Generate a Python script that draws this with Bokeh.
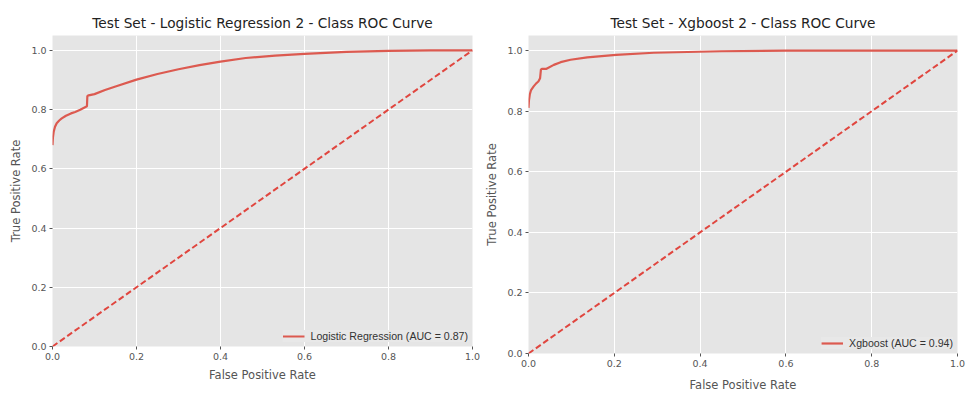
from bokeh.plotting import figure
from bokeh.models import Range1d, FixedTicker, Legend, LegendItem
from bokeh.embed import file_html
from bokeh.resources import INLINE

# ---------------- data ----------------
lr_fpr = [0.0, 0.001, 0.003, 0.006, 0.010, 0.016, 0.022, 0.032, 0.044, 0.054, 0.066, 0.082, 0.083, 0.086,
          0.10, 0.125, 0.15, 0.20, 0.25, 0.30, 0.35, 0.40, 0.46, 0.53, 0.60, 0.70, 0.80, 0.90, 1.0]
lr_tpr = [0.68, 0.705, 0.726, 0.742, 0.754, 0.763, 0.770, 0.779, 0.787, 0.792, 0.799, 0.811, 0.846, 0.848,
          0.852, 0.866, 0.878, 0.901, 0.920, 0.936, 0.950, 0.962, 0.974, 0.982, 0.988, 0.995, 0.998, 0.9995, 1.0]

xgb_fpr = [0.0, 0.001, 0.003, 0.006, 0.012, 0.018, 0.023, 0.027, 0.029, 0.032, 0.042, 0.059, 0.075, 0.098,
           0.137, 0.204, 0.292, 0.45, 0.60, 0.80, 1.0]
xgb_tpr = [0.811, 0.835, 0.855, 0.870, 0.882, 0.892, 0.898, 0.909, 0.938, 0.940, 0.940, 0.953, 0.962, 0.970,
           0.978, 0.986, 0.993, 0.998, 1.0, 1.0, 1.0]

chance = [0.0, 1.0]

tick_values = [0.0, 0.2, 0.4, 0.6, 0.8, 1.0]
tick_labels = ["0.0", "0.2", "0.4", "0.6", "0.8", "1.0"]

titles = ["Test Set - Logistic Regression 2 - Class ROC Curve", "Test Set - Xgboost 2 - Class ROC Curve"]
legend_labels = ["Logistic Regression (AUC = 0.87)", "Xgboost (AUC = 0.94)"]
x_label = "False Positive Rate"
y_label = "True Positive Rate"

CURVE = "#dc5a50"
DIAG = "#e0463f"
PANEL = "#e5e5e5"
GRAY = "#555555"
FONT = "DejaVu Sans"


def make(fpr, tpr, title, label, width, mb_left, mb_right, mb_bottom, lbl_standoff):
    p = figure(width=width, height=394, output_backend="svg", toolbar_location=None,
               x_range=Range1d(0, 1), y_range=Range1d(0, 1.05),
               min_border_left=mb_left, min_border_right=mb_right,
               min_border_top=35, min_border_bottom=mb_bottom,
               background_fill_color=PANEL, border_fill_color="white",
               outline_line_color=None)
    p.title.text = title
    p.title.align = "center"
    p.title.text_font = FONT
    p.title.text_font_size = "13.7px"
    p.title.text_font_style = "normal"
    p.title.text_color = "#222222"

    for ax in (p.xaxis[0], p.yaxis[0]):
        ax.ticker = FixedTicker(ticks=tick_values)
        ax.major_label_overrides = dict(zip(tick_values, tick_labels))
        ax.axis_line_color = None
        ax.major_tick_line_color = GRAY
        ax.major_tick_in = 0
        ax.major_tick_out = 3
        ax.minor_tick_line_color = None
        ax.major_label_text_font = FONT
        ax.major_label_text_font_size = "9.5px"
        ax.major_label_text_color = GRAY
        ax.major_label_standoff = 3
        ax.axis_label_text_font = FONT
        ax.axis_label_text_font_size = "11.5px"
        ax.axis_label_text_font_style = "normal"
        ax.axis_label_text_color = GRAY
        ax.axis_label_standoff = 5
    p.xaxis.axis_label_standoff = lbl_standoff
    p.xaxis.axis_label = x_label
    p.yaxis.axis_label = y_label

    p.grid.grid_line_color = "white"
    p.grid.grid_line_width = 1
    p.grid.ticker = FixedTicker(ticks=tick_values)

    r = p.line(fpr, tpr, line_color=CURVE, line_width=2.2)
    p.line(chance, chance, line_color=DIAG, line_width=2, line_dash="6 3")

    legend = Legend(items=[LegendItem(label=label, renderers=[r])],
                    location="bottom_right",
                    background_fill_color="#e8e8e8", background_fill_alpha=1.0,
                    border_line_color=None,
                    label_text_font="Liberation Sans", label_text_font_size="10.6px",
                    label_text_color="#333333",
                    glyph_width=22, glyph_height=12, label_standoff=6,
                    padding=6, margin=4, spacing=0)
    p.add_layout(legend, "center")
    return p


p1 = make(lr_fpr, lr_tpr, titles[0], legend_labels[0], 480, 52, 8, 48, 5)
p2 = make(xgb_fpr, xgb_tpr, titles[1], legend_labels[1], 489, 48, 12, 40, 8)

# two independent roots placed side by side (no shared frame alignment)
TEMPLATE = """
{% block postamble %}
<style>
  .side-by-side { display: flex; flex-direction: row; align-items: flex-start; }
</style>
{% endblock %}
{% block contents %}
<div class="side-by-side">
{{ super() }}
</div>
{% endblock %}
"""

open("out.html", "w").write(file_html([p1, p2], INLINE, template=TEMPLATE))
